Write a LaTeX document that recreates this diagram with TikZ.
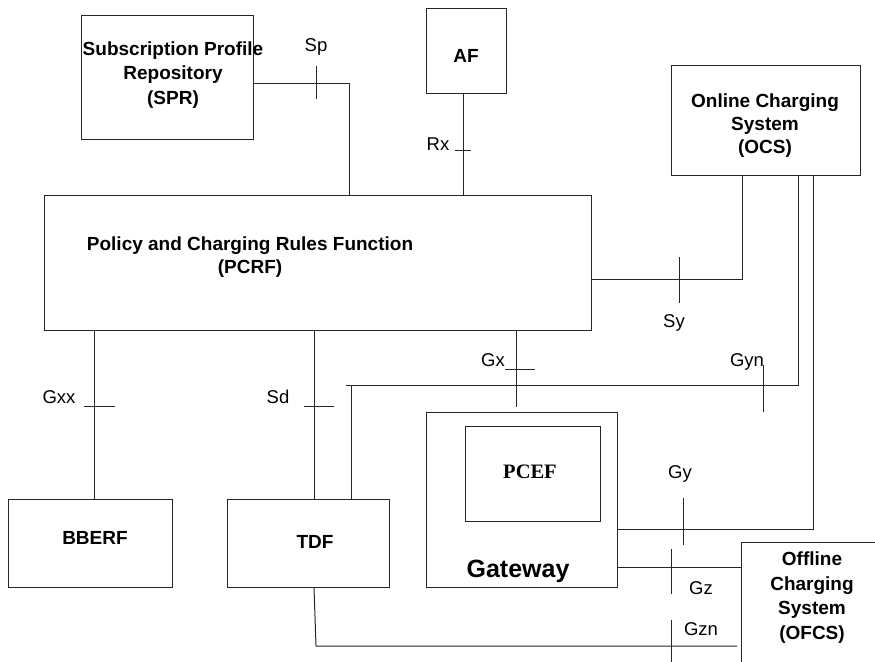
\documentclass[tikz,border=0pt]{standalone}
\usepackage{fontspec}
\setmainfont{Liberation Sans}
\newfontfamily\serifface{Liberation Serif}
\colorlet{wirecol}{black!85}
\begin{document}
\begin{tikzpicture}[x=1bp,y=-1bp,line width=1bp,
  wire/.style={draw=wirecol},
  box/.style={draw=wirecol,inner sep=0pt,minimum width=#1},
  boxtext/.style={font=\fontsize{19bp}{24.5bp}\selectfont\bfseries,align=center,inner sep=0pt},
  iface/.style={font=\fontsize{18.5bp}{22bp}\selectfont,anchor=base,inner sep=0pt}]
\useasboundingbox (0,0) rectangle (875,662);
\clip (0,0) rectangle (875,662);

% network elements
\node[box=172bp,minimum height=123bp] (spr) at (167,77.5) {};
\node[box=80bp,minimum height=85bp] (af) at (466,51.5) {};
\node[box=189bp,minimum height=109bp] (ocs) at (765.5,120.5) {};
\node[box=546bp,minimum height=134bp] (pcrf) at (318,263) {};
\node[box=163bp,minimum height=88bp] (bberf) at (90.5,543) {};
\node[box=162bp,minimum height=88bp] (tdf) at (308,543) {};
\node[box=191bp,minimum height=175bp] (gw) at (521.5,499.5) {};
\node[box=135bp,minimum height=95bp] (pcef) at (532.5,473.5) {};
\node[box=159bp,minimum height=178bp] (ofcs) at (820.5,631) {};

% element names
\node[boxtext] (spr-t) at (173,75) {Subscription Profile\\Repository\\(SPR)};
\node[boxtext,anchor=base] (af-t) at (466,63) {AF};
\node[boxtext,font=\fontsize{19bp}{23bp}\selectfont\bfseries] (ocs-t) at (765,126) {Online Charging\\System\\(OCS)};
\node[boxtext,font=\fontsize{19bp}{23bp}\selectfont\bfseries] (pcrf-t) at (250,257) {Policy and Charging Rules Function\\(PCRF)};
\node[boxtext,anchor=base] (bberf-t) at (95,544) {BBERF};
\node[boxtext,anchor=base] (tdf-t) at (315,548) {TDF};
\node[boxtext,anchor=base,font=\fontsize{20.5bp}{24bp}\selectfont\serifface\bfseries] (pcef-t) at (530,478) {PCEF};
\node[boxtext,anchor=base,font=\fontsize{25bp}{30bp}\selectfont\bfseries] (gw-t) at (518,577) {Gateway};
\node[boxtext,font=\fontsize{19bp}{24.7bp}\selectfont\bfseries] (ofcs-t) at (812,597.5) {Offline\\Charging\\System\\(OFCS)};

% bend points of the reference points
\coordinate (sp-bend) at (349,84);
\coordinate (rx-x) at (463,0);
\coordinate (sy-bend) at (742,279);
\coordinate (gxx-x) at (94,0);
\coordinate (sd-x) at (314,0);
\coordinate (gyn-l) at (351,385);
\coordinate (gyn-r) at (798,385);
\coordinate (gx-end) at (516,407);
\coordinate (gy-bend) at (813,529);
\coordinate (gz-y) at (0,567);
\coordinate (gzn-bend) at (316,646);
\coordinate (gzn-end) at (737,646);

% interfaces
\draw[wire] (spr.east |- sp-bend) -- (sp-bend) -- (sp-bend |- pcrf.north);
\draw[wire] (rx-x |- af.south) -- (rx-x |- pcrf.north);
\draw[wire] (pcrf.east |- sy-bend) -- (sy-bend) -- (sy-bend |- ocs.south);
\draw[wire] (gxx-x |- pcrf.south) -- (gxx-x |- bberf.north);
\draw[wire] (sd-x |- pcrf.south) -- (sd-x |- tdf.north);
\draw[wire] (gyn-l |- tdf.north) -- (gyn-l);
\draw[wire] ([xshift=-5bp]gyn-l) -- (gyn-r) -- (gyn-r |- ocs.south);
\draw[wire] (gx-end |- pcrf.south) -- (gx-end);
\draw[wire] (gw.east |- gy-bend) -- (gy-bend) -- (gy-bend |- ocs.south);
\draw[wire] (gw.east |- gz-y) -- (ofcs.west |- gz-y);
\draw[wire] (sd-x |- tdf.south) -- (gzn-bend) -- (gzn-end);

% reference point ticks
\draw[wire] (316,66) -- (316,99);
\draw[wire] (455,151) -- (471,151);
\draw[wire] (679,257) -- (679,303);
\draw[wire] (84,406) -- (115,406);
\draw[wire] (304,406) -- (334,406);
\draw[wire] (763,365) -- (763,412);
\draw[wire] (505,369) -- (535,369);
\draw[wire] (683,498) -- (683,545);
\draw[wire] (671,549) -- (671,594);
\draw[wire] (671,620) -- (671,665);

% reference point names
\node[iface] (sp-l) at (316,52) {Sp};
\node[iface] (rx-l) at (438,151) {Rx};
\node[iface] (sy-l) at (674,327) {Sy};
\node[iface] (gyn-t) at (747,366) {Gyn};
\node[iface] (gx-l) at (493,366) {Gx};
\node[iface] (gxx-l) at (59,403) {Gxx};
\node[iface] (sd-l) at (278,403) {Sd};
\node[iface] (gy-l) at (680,478) {Gy};
\node[iface] (gz-l) at (701,594) {Gz};
\node[iface] (gzn-l) at (701,635) {Gzn};
\end{tikzpicture}
\end{document}
